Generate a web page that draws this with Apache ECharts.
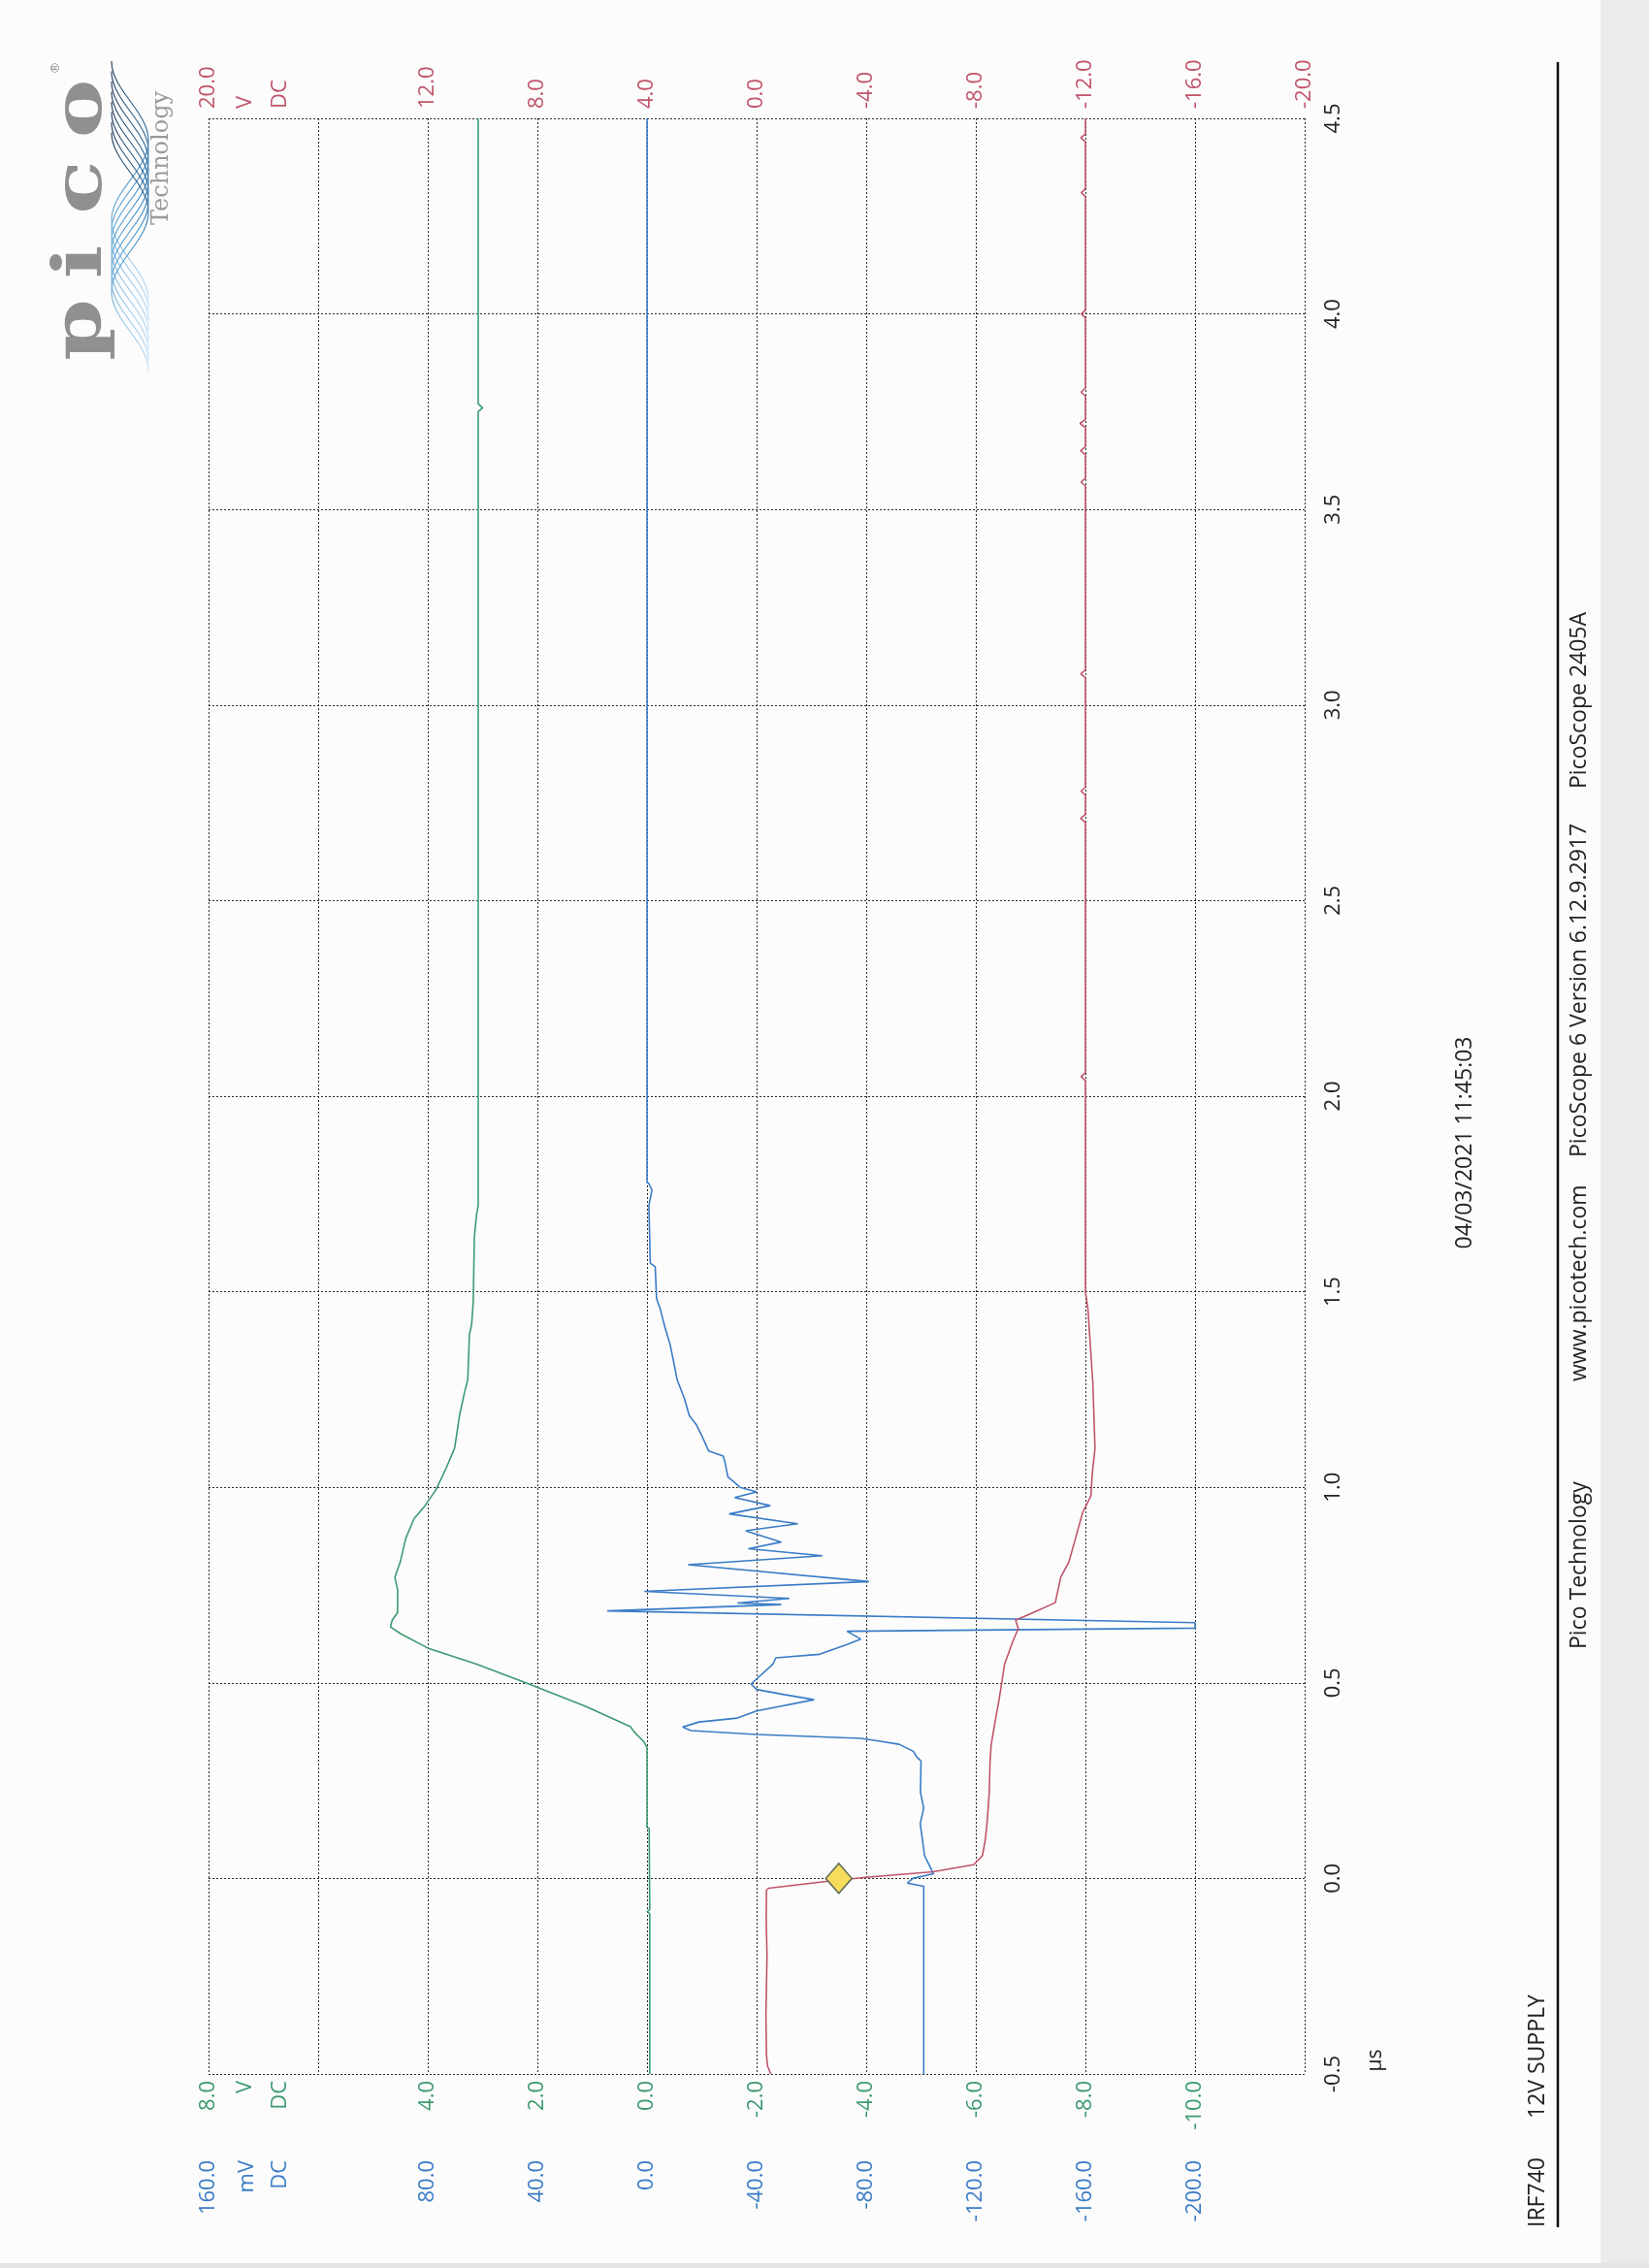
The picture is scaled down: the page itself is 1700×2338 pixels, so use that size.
<!DOCTYPE html>
<html>
<head>
<meta charset="utf-8">
<title>IRF740 12V SUPPLY</title>
<script src="https://cdn.jsdelivr.net/npm/echarts@6.0.0/dist/echarts.min.js"></script>
<style>html,body{margin:0;padding:0;background:#fcfcfc;}</style>
</head>
<body>
<div id="main" style="width:1700px;height:2338px;"></div>
<script>
// tick labels shown on each axis
var timeTicks  = [-0.5, 0, 0.5, 1, 1.5, 2, 2.5, 3, 3.5, 4, 4.5];
var redTicks   = [20, 12, 8, 4, 0, -4, -8, -12, -16, -20];
var greenTicks = [8, 4, 2, 0, -2, -4, -6, -8, -10];
var blueTicks  = [160, 80, 40, 0, -40, -80, -120, -160, -200];

// channel traces, time in µs
var redT = [-0.5, -0.48, -0.45, -0.35, -0.2, -0.1, -0.03, -0.025, -0.004, 0.003, 0.017, 0.035, 0.058, 0.1, 0.15, 0.22, 0.3, 0.341,
  0.4, 0.457, 0.548, 0.606, 0.639, 0.66, 0.68, 0.705, 0.77, 0.81, 0.86, 0.936, 0.978, 1.035, 1.1, 1.267, 1.457, 1.5,
  2.04, 2.05, 2.06, 2.7, 2.71, 2.72, 2.77, 2.78, 2.79, 3.07, 3.08, 3.09, 3.56, 3.57, 3.58, 3.64, 3.65, 3.66,
  3.71, 3.72, 3.73, 3.79, 3.8, 3.81, 3.99, 4.0, 4.01, 4.3, 4.31, 4.32, 4.44, 4.45, 4.46, 4.5];
var redV = [-0.52, -0.40, -0.36, -0.34, -0.38, -0.35, -0.36, -0.44, -3.0, -4.0, -6.45, -7.92, -8.24, -8.35, -8.42, -8.49, -8.52, -8.56,
  -8.7, -8.85, -9.05, -9.35, -9.55, -9.45, -10.1, -10.9, -11.1, -11.4, -11.6, -11.9, -12.2, -12.25, -12.35, -12.27, -12.09, -12.0,
  -12.0, -11.84, -12.0, -12.0, -11.82, -12.0, -12.0, -11.84, -12.0, -12.0, -11.83, -12.0, -12.0, -11.84, -12.0, -12.0, -11.82, -12.0,
  -12.0, -11.8, -12.0, -12.0, -11.84, -12.0, -12.0, -11.85, -12.0, -12.0, -11.85, -12.0, -12.0, -11.83, -12.0, -12.0];

var blueT = [-0.5, -0.02, -0.012, 0.0, 0.012, 0.03, 0.058, 0.1, 0.14, 0.18, 0.22, 0.3, 0.31, 0.325, 0.343, 0.352, 0.358, 0.368,
  0.378, 0.387, 0.4, 0.41, 0.428, 0.457, 0.47, 0.483, 0.497, 0.507, 0.548, 0.564, 0.573, 0.598, 0.612, 0.632, 0.64, 0.654,
  0.684, 0.7, 0.704, 0.716, 0.734, 0.759, 0.802, 0.825, 0.843, 0.86, 0.889, 0.907, 0.932, 0.953, 0.974, 0.988, 1.0,
  1.027, 1.06, 1.08, 1.093, 1.135, 1.16, 1.184, 1.226, 1.275, 1.308, 1.366, 1.408, 1.457, 1.482, 1.564, 1.573, 1.72,
  1.76, 1.775, 1.78, 4.5];
var blueV = [-101, -101, -95, -97, -104.6, -103.3, -101.3, -100.5, -99.7, -101, -99.8, -100, -98.5, -97.2, -92, -84, -78, -40,
  -16, -13, -19, -33, -40, -61, -50, -40, -38, -39.5, -46, -47, -63, -73, -78, -73, -200, -200,
  14.5, -49, -33, -52, 1, -81, -15, -64, -37, -49, -36, -55, -30, -45, -32, -40, -34,
  -29.5, -28.6, -27.8, -22.5, -19.8, -18, -15.4, -13.7, -11, -10.1, -8.4, -6.6, -4.8, -3.5, -3, -1.2, -0.7,
  -1.8, -0.8, 0, 0];

var greenT = [-0.5, -0.09, -0.085, -0.08, 0.128, 0.13, 0.335, 0.35, 0.374, 0.388, 0.44, 0.5, 0.548, 0.589, 0.626, 0.643, 0.66,
  0.68, 0.738, 0.77, 0.81, 0.87, 0.92, 0.953, 0.994, 1.044, 1.1, 1.184, 1.242, 1.275, 1.39, 1.416, 1.474, 1.639, 1.697,
  1.72, 3.75, 3.76, 3.77, 4.5];
var greenV = [-0.05, -0.05, 0.0, -0.05, -0.04, 0.0, 0.0, 0.06, 0.23, 0.3, 1.12, 2.21, 3.11, 4.0, 4.5, 4.68, 4.65,
  4.55, 4.55, 4.6, 4.5, 4.4, 4.25, 4.05, 3.85, 3.68, 3.51, 3.42, 3.33, 3.27, 3.24, 3.2, 3.17, 3.15, 3.11,
  3.08, 3.08, 3.0, 3.08, 3.08];

// trigger marker (on the red channel)
var triggerT = [0];
var triggerV = [-3.0];

var RED = '#c0546a', GREEN = '#3d9a70', BLUE = '#3a7cc6';
var VALFONT = 'Open Sans', TXTFONT = 'Open Sans';

function pairs(ts, vs) {
  var out = [];
  for (var i = 0; i < ts.length; i++) out.push([vs[i], ts[i]]);
  return out;
}
function tickFmt(list) {
  return function (v) {
    for (var i = 0; i < list.length; i++) if (Math.abs(list[i] - v) < 1e-9) return v.toFixed(1);
    return '';
  };
}

var chart = echarts.init(document.getElementById('main'), null, {renderer: 'canvas'});

var grid = {left: 215, right: 355, top: 122, bottom: 200, show: false, containLabel: false, outerBoundsMode: 'none'};
var gridLine = {show: true, lineStyle: {color: '#2a2a2a', width: 1, type: [2, 2]}};

function rotText(x, y, text, color, font, align) {
  return {
    type: 'text', x: x, y: y, rotation: Math.PI / 2, silent: true,
    style: {text: text, fill: color, font: font, textAlign: align, textVerticalAlign: 'middle', verticalAlign: 'middle'}
  };
}

var graphics = [
  {type: 'rect', shape: {x: 1650, y: 0, width: 50, height: 2338}, style: {fill: '#ebebeb'}, silent: true},
  {type: 'rect', shape: {x: 0, y: 2333, width: 1700, height: 5}, style: {fill: '#e4e4e4'}, silent: true},
  {type: 'line', shape: {x1: 1606, y1: 64, x2: 1606, y2: 2296}, style: {stroke: '#111', lineWidth: 2.5}, silent: true},
  // channel units
  rotText(253, 112, 'V', RED, '22px ' + VALFONT, 'left'),
  rotText(289, 112, 'DC', RED, '22px ' + VALFONT, 'left'),
  rotText(253, 2145, 'V', GREEN, '22px ' + VALFONT, 'right'),
  rotText(289, 2145, 'DC', GREEN, '22px ' + VALFONT, 'right'),
  rotText(255, 2227, 'mV', BLUE, '22px ' + VALFONT, 'right'),
  rotText(289, 2227, 'DC', BLUE, '22px ' + VALFONT, 'right'),
  rotText(1418, 2124, 'µs', '#222', '21px ' + TXTFONT, 'center'),
  // texts
  rotText(1585, 2296, 'IRF740', '#222', '23px ' + TXTFONT, 'left'),
  rotText(1585, 2184, '12V SUPPLY', '#222', '23px ' + TXTFONT, 'left'),
  rotText(1510, 1178, '04/03/2021 11:45:03', '#222', '23px ' + TXTFONT, 'center'),
  rotText(1628, 1700, 'Pico Technology', '#222', '23px ' + TXTFONT, 'left'),
  rotText(1628, 1424, 'www.picotech.com', '#222', '23px ' + TXTFONT, 'left'),
  rotText(1628, 1193, 'PicoScope 6 Version 6.12.9.2917', '#222', '23px ' + TXTFONT, 'left'),
  rotText(1628, 813, 'PicoScope 2405A', '#222', '23px ' + TXTFONT, 'left'),
  // logo
  rotText(167, 163, 'Technology', '#9a9a9a', '24px DejaVu Serif', 'center'),
  rotText(58, 70, '®', '#8a8a8a', '13px DejaVu Sans', 'center')
];
var logoLetters = ['p', 'i', 'c', 'o'];
var logoY = [340, 270, 193, 112];
for (var k = 0; k < logoLetters.length; k++) {
  var el = rotText(86, logoY[k], logoLetters[k], '#909090', 'bold 70px DejaVu Serif', 'center');
  el.scaleX = 1.3;
  graphics.push(el);
}
for (var w = 0; w < 8; w++) {
  var ys = 63 + w * 10.5, H = 82, pts = [];
  for (var yy = ys; yy <= ys + 3 * H; yy += 3) {
    pts.push([134 - 19 * Math.cos(Math.PI * (yy - ys) / H), yy]);
  }
  graphics.push({
    type: 'polyline', silent: true, shape: {points: pts},
    style: {
      fill: null, lineWidth: 1.1,
      stroke: new echarts.graphic.LinearGradient(0, 0, 0, 1, [
        {offset: 0, color: '#1d3550'}, {offset: 0.45, color: '#3a8cc8'}, {offset: 1, color: '#c4e3f6'}
      ])
    }
  });
}

var option = {
  animation: false,
  backgroundColor: '#fcfcfc',
  textStyle: {fontFamily: VALFONT},
  grid: grid,
  yAxis: {
    type: 'value', position: 'right', min: -0.5, max: 4.5, interval: 0.5,
    axisLine: {show: false}, axisTick: {show: false},
    axisLabel: {rotate: 90, margin: 19, color: '#222', fontFamily: TXTFONT, fontSize: 22,
      showMinLabel: true, showMaxLabel: true, formatter: tickFmt(timeTicks)},
    splitLine: gridLine
  },
  xAxis: [
    {
      type: 'value', position: 'top', inverse: true, min: -20, max: 20, interval: 4,
      axisLine: {show: false}, axisTick: {show: false},
      axisLabel: {rotate: 90, margin: 10, color: RED, fontSize: 22, showMinLabel: true, showMaxLabel: true, formatter: tickFmt(redTicks)},
      splitLine: gridLine
    },
    {
      type: 'value', position: 'bottom', inverse: true, min: -12, max: 8, interval: 2,
      axisLine: {show: false}, axisTick: {show: false},
      axisLabel: {rotate: 90, margin: 7, color: GREEN, fontSize: 22, showMinLabel: true, showMaxLabel: true, formatter: tickFmt(greenTicks)},
      splitLine: {show: false}
    },
    {
      type: 'value', position: 'bottom', offset: 82, inverse: true, min: -240, max: 160, interval: 40,
      axisLine: {show: false}, axisTick: {show: false},
      axisLabel: {rotate: 90, margin: 7, color: BLUE, fontSize: 22, showMinLabel: true, showMaxLabel: true, formatter: tickFmt(blueTicks)},
      splitLine: {show: false}
    }
  ],
  series: [
    {name: 'A', type: 'line', xAxisIndex: 2, data: pairs(blueT, blueV), showSymbol: false, symbol: 'none',
      lineStyle: {color: BLUE, width: 1.6}, z: 3},
    {name: 'B', type: 'line', xAxisIndex: 1, data: pairs(greenT, greenV), showSymbol: false, symbol: 'none',
      lineStyle: {color: GREEN, width: 1.6}, z: 3},
    {name: 'C', type: 'line', xAxisIndex: 0, data: pairs(redT, redV), showSymbol: false, symbol: 'none',
      lineStyle: {color: RED, width: 1.6}, z: 3},
    {name: 'trigger', type: 'scatter', xAxisIndex: 0, data: pairs(triggerT, triggerV), symbol: 'diamond',
      symbolSize: [27, 31], itemStyle: {color: '#f6dc5c', borderColor: '#5d6b58', borderWidth: 1.5, opacity: 1}, z: 5}
  ],
  graphic: {elements: graphics}
};
chart.setOption(option);
</script>
</body>
</html>
